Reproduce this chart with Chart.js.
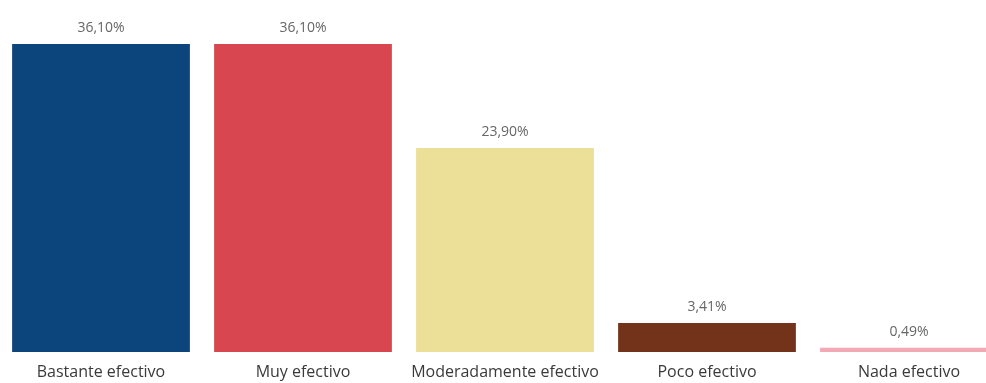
<!DOCTYPE html>
<html>
<head>
<meta charset="utf-8">
<script src="https://cdn.jsdelivr.net/npm/chart.js@4/dist/chart.umd.min.js"></script>
<style>
    html, body { margin: 0; padding: 0; background: #fff; overflow: hidden; }
    #wrap { width: 1010px; height: 383px; }
</style>
</head>
<body>
<div id="wrap"><canvas id="effChart" width="1010" height="383"></canvas></div>
<script>
const categories = ["Bastante efectivo", "Muy efectivo", "Moderadamente efectivo", "Poco efectivo", "Nada efectivo"];
const shareValues = [36.10, 36.10, 23.90, 3.41, 0.49];
const valueLabels = ["36,10%", "36,10%", "23,90%", "3,41%", "0,49%"];
const barColors = ["#0c447c", "#d8464f", "#ecdf97", "#73331a", "#f3a9b4"];

// draws the % labels above each bar
const valueLabelPlugin = {
    id: 'valueLabels',
    afterDatasetsDraw(chart) {
        const ctx = chart.ctx;
        const meta = chart.getDatasetMeta(0);
        ctx.save();
        ctx.font = '14px "Open Sans"';
        ctx.fillStyle = '#666666';
        ctx.textAlign = 'center';
        ctx.textBaseline = 'middle';
        meta.data.forEach(function(bar, i) {
            ctx.fillText(valueLabels[i], bar.x, bar.y - 16);
        });
        ctx.restore();
    }
};

new Chart("effChart", {
    type: "bar",
    data: {
        labels: categories,
        datasets: [{
            data: shareValues,
            backgroundColor: barColors,
            borderWidth: 0,
            barPercentage: 0.88,
            categoryPercentage: 1.0
        }]
    },
    options: {
        responsive: false,
        animation: false,
        layout: { padding: { top: 44, left: 0, right: 0, bottom: 2 } },
        plugins: {
            legend: { display: false },
            tooltip: { enabled: false }
        },
        scales: {
            x: {
                grid: { display: false, drawTicks: false },
                border: { display: false },
                ticks: {
                    color: '#3a3a3a',
                    padding: 11,
                    maxRotation: 0,
                    autoSkip: false,
                    font: { family: '"Open Sans"', size: 16 }
                },
                afterFit: function(axis) { axis.height = 29; }
            },
            y: {
                display: false,
                min: 0,
                max: 36.1
            }
        }
    },
    plugins: [valueLabelPlugin]
});
</script>
</body>
</html>
